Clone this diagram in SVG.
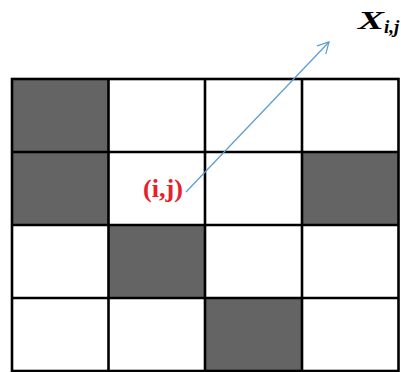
<svg xmlns="http://www.w3.org/2000/svg" width="401" height="372" viewBox="0 0 401 372">
<style>
.dark{fill:#646464}
.grid{fill:none;stroke:#000;stroke-width:2.6}
.lbl{font-family:"Liberation Serif",serif;font-weight:bold}
</style>
<defs>
<marker id="ah" markerWidth="14" markerHeight="14" refX="12" refY="7" orient="auto" markerUnits="userSpaceOnUse">
<path d="M1,1 L12,7 L1,13" fill="none" stroke="#5B9BD5" stroke-width="1.2"/>
</marker>
</defs>
<rect width="401" height="372" fill="#fff"/>
<g id="cells">
<rect class="dark" x="12" y="79" width="96.5" height="73"/>
<rect class="dark" x="12" y="152" width="96.5" height="73"/>
<rect class="dark" x="302" y="152" width="96.5" height="73"/>
<rect class="dark" x="108.5" y="225" width="96.5" height="73"/>
<rect class="dark" x="205" y="298" width="97" height="73"/>
</g>
<g id="grid" class="grid">
<rect x="12" y="79" width="386.5" height="292"/>
<line x1="108.5" y1="79" x2="108.5" y2="371"/>
<line x1="205" y1="79" x2="205" y2="371"/>
<line x1="302" y1="79" x2="302" y2="371"/>
<line x1="12" y1="152" x2="398.5" y2="152"/>
<line x1="12" y1="225" x2="398.5" y2="225"/>
<line x1="12" y1="298" x2="398.5" y2="298"/>
</g>
<g id="connectors">
<line x1="186" y1="192" x2="329" y2="42" stroke="#5B9BD5" stroke-width="1.2" marker-end="url(#ah)"/>
</g>
<g id="label-ij">
<text class="lbl" x="143" y="197" font-size="25" fill="#E8202A" textLength="40" lengthAdjust="spacingAndGlyphs">(i,j)</text>
</g>
<g id="label-x">
<text class="lbl" x="358" y="28.5" font-size="25" font-style="italic" fill="#000" textLength="26" lengthAdjust="spacingAndGlyphs">X</text>
<text class="lbl" x="384" y="33" font-size="19" font-style="italic" fill="#000">i,j</text>
</g>
</svg>
